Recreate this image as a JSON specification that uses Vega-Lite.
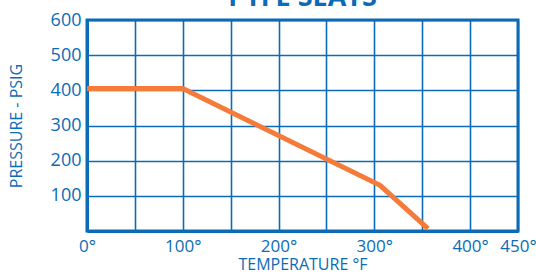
{
  "$schema": "https://vega.github.io/schema/vega-lite/v6.json",
  "width": 431,
  "height": 211,
  "autosize": {"type": "none"},
  "padding": {"left": 87, "top": 20, "right": 18, "bottom": 44},
  "background": "white",
  "title": {
    "text": "PTFE SEATS",
    "font": "Open Sans",
    "fontSize": 27,
    "fontWeight": "bold",
    "color": "#0b6bb5",
    "anchor": "middle",
    "frame": "group",
    "baseline": "top",
    "offset": -1
  },
  "data": {
    "values": [
      {"temp": 0, "pressure": 405},
      {"temp": 100, "pressure": 405},
      {"temp": 306, "pressure": 130},
      {"temp": 356, "pressure": 7}
    ]
  },
  "config": {
    "view": {"stroke": "#0b6bb5", "strokeWidth": 3},
    "axis": {
      "labelFont": "Open Sans",
      "titleFont": "Open Sans",
      "labelColor": "#0b6bb5",
      "titleColor": "#0b6bb5",
      "labelFontSize": 18,
      "titleFontSize": 16,
      "titleFontWeight": "normal",
      "domainColor": "#0b6bb5",
      "domainWidth": 3,
      "gridColor": "#0b6bb5",
      "gridWidth": 1.6,
      "gridOpacity": 1,
      "ticks": false
    }
  },
  "mark": {"type": "line", "color": "#f47b3a", "strokeWidth": 5, "clip": true},
  "encoding": {
    "x": {
      "field": "temp",
      "type": "quantitative",
      "scale": {"domain": [0, 450], "nice": false},
      "axis": {
        "title": "TEMPERATURE °F",
        "values": [0, 50, 100, 150, 200, 250, 300, 350, 400, 450],
        "labelExpr": "datum.value % 100 == 0 || datum.value == 450 ? datum.value + '°' : ''",
        "labelFlush": false,
        "labelFontSize": 17,
        "labelPadding": 7,
        "titlePadding": 2
      }
    },
    "y": {
      "field": "pressure",
      "type": "quantitative",
      "scale": {"domain": [0, 600], "nice": false},
      "axis": {
        "title": "PRESSURE - PSIG",
        "values": [0, 100, 200, 300, 400, 500, 600],
        "labelExpr": "datum.value == 0 ? '' : datum.label",
        "labelPadding": 6,
        "titlePadding": 26
      }
    }
  }
}
